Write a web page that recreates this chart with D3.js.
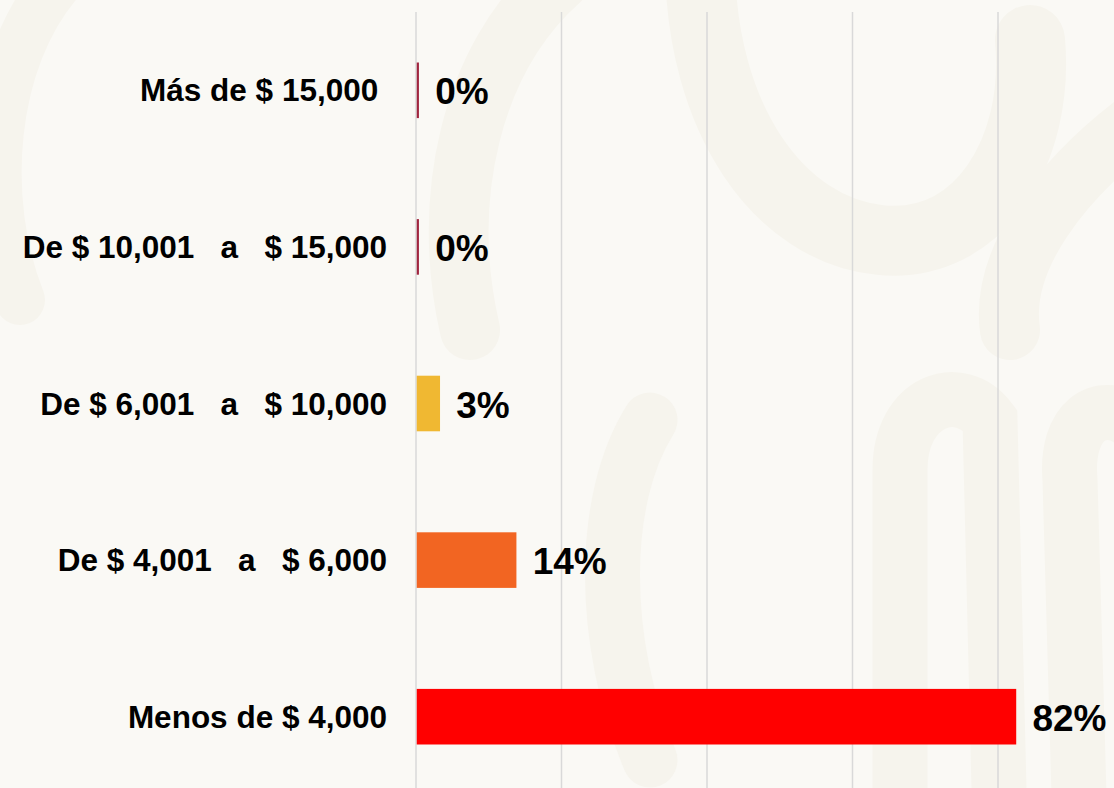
<!DOCTYPE html>
<meta charset="utf-8">
<style>
  body { margin: 0; background: #faf9f5; }
  svg { display: block; font-family: "Liberation Sans", Arial, sans-serif; }
  .grid line { stroke: #d9d9d9; stroke-width: 1.5px; }
  .cat { font-size: 31.5px; font-weight: bold; fill: #000; white-space: pre; }
  .val { font-size: 37px; font-weight: bold; fill: #000; }
  .deco path { fill: none; stroke: #f6f4ed; stroke-linecap: round; }
</style>
<svg width="1114" height="788"></svg>
<script src="https://cdn.jsdelivr.net/npm/d3@7"></script>
<script>

  // rangos de ingreso (de arriba hacia abajo)
  var categories = [
    "Más de $ 15,000 ",
    "De $ 10,001   a   $ 15,000",
    "De $ 6,001   a   $ 10,000",
    "De $ 4,001   a   $ 6,000",
    "Menos de $ 4,000"
  ];
  var values = [0.3, 0.3, 3.2, 13.7, 82.4];   // porcentaje
  var colors = ["#a0263f", "#a0263f", "#f0b832", "#f26522", "#ff0000"];
  var gridTicks = [0, 20, 40, 60, 80];

  var svg = d3.select("svg"),
        width = +svg.attr("width"),
        height = +svg.attr("height");

  // fondo con motivo tenue
  var deco = svg.append("g").attr("class", "deco");
  deco.append("path").attr("stroke-width", 70)
        .attr("d", "M700,-40 C700,120 780,230 880,240 C980,250 1040,150 1030,40");
  deco.append("path").attr("stroke-width", 60)
        .attr("d", "M1140,120 C1060,180 1000,260 1010,330");
  deco.append("path").attr("stroke-width", 55)
        .attr("d", "M900,830 L900,470 C900,400 960,380 990,420 L1000,830");
  deco.append("path").attr("stroke-width", 55)
        .attr("d", "M1080,830 L1070,480 C1065,420 1100,400 1130,420");
  deco.append("path").attr("stroke-width", 60)
        .attr("d", "M560,-20 C470,60 440,200 470,330");
  deco.append("path").attr("stroke-width", 50)
        .attr("d", "M60,-20 C-10,60 -20,200 20,300");
  deco.append("path").attr("stroke-width", 55)
        .attr("d", "M650,420 C600,500 600,640 650,760");

  var x = d3.scaleLinear().domain([0, 80]).range([416, 998]);

  var y = d3.scaleBand()
        .domain(categories)
        .range([12, 795])
        .paddingInner(0.645)
        .paddingOuter(0.3225);

  // lineas de cuadricula
  svg.append("g")
        .attr("class", "grid")
        .selectAll("line")
        .data(gridTicks)
        .enter().append("line")
        .attr("x1", function (d) { return x(d); })
        .attr("x2", function (d) { return x(d); })
        .attr("y1", 12)
        .attr("y2", height);

  var data = categories.map(function (c, i) {
    return { cat: c, value: values[i], color: colors[i] };
  });

  svg.append("g")
        .selectAll("rect")
        .data(data)
        .enter().append("rect")
        .attr("x", x(0) + 0.75)
        .attr("y", function (d) { return y(d.cat); })
        .attr("width", function (d) { return x(d.value) - x(0); })
        .attr("height", y.bandwidth())
        .attr("fill", function (d) { return d.color; });

  // etiquetas de categoria
  svg.append("g")
        .selectAll("text")
        .data(data)
        .enter().append("text")
        .attr("class", "cat")
        .attr("x", 387)
        .attr("y", function (d) { return y(d.cat) + y.bandwidth() / 2 + 11; })
        .attr("text-anchor", "end")
        .text(function (d) { return d.cat; });

  // etiquetas de valor
  svg.append("g")
        .selectAll("text")
        .data(data)
        .enter().append("text")
        .attr("class", "val")
        .attr("x", function (d) { return x(d.value) + 17; })
        .attr("y", function (d) { return y(d.cat) + y.bandwidth() / 2 + 14; })
        .text(function (d) { return Math.round(d.value) + "%"; });

</script>
